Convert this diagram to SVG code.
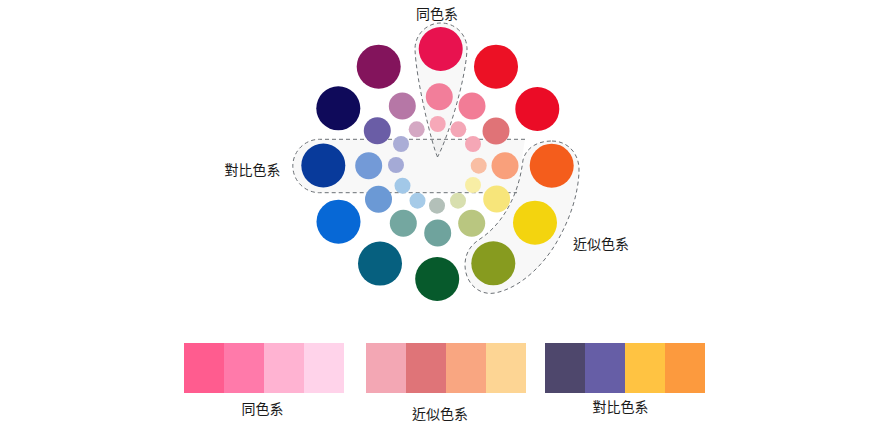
<svg xmlns="http://www.w3.org/2000/svg" width="882" height="425" viewBox="0 0 882 425">
<style>
.lbl{font-family:"Noto Sans CJK TC","Noto Sans CJK SC",sans-serif;font-size:14px;fill:#1a1a1a;text-anchor:middle}
.zone{fill:#000;fill-opacity:0.028;stroke:#6b7075;stroke-width:1;stroke-dasharray:4 3}
</style>
<rect width="882" height="425" fill="#fff"/>
<g id="groups">
<path id="zone-contrast" class="zone" d="M525,139.3 L319.5,139.3 A26.7,26.7 0 0 0 319.5,192.7 L517,192.7"/>
<path id="zone-analog" class="zone" d="M552,141 C568,141 580,154 579,172 C578,195 570,220 555,245 C542,266 520,288 495,293 C478,296 465,282 465,265 C465,252 472,244 480,239 C495,229 505,215 512,200 C518,187 521,175 523,160 C526,148 537,141 552,141 Z"/>
<path id="zone-mono" class="zone" d="M437.5,157 C432,145 416,80 415,49 A26,26 0 1 1 467,49 C466,80 447,140 437.5,157 Z"/>
</g>
<g id="wheel-outer">
<circle cx="440.7" cy="49" r="22" fill="#E8124F"/>
<circle cx="496" cy="66.7" r="22" fill="#EC1125"/>
<circle cx="537.3" cy="109" r="22" fill="#EB0C26"/>
<circle cx="551.7" cy="165.7" r="22" fill="#F45D1C"/>
<circle cx="535" cy="222.7" r="22" fill="#F3D40F"/>
<circle cx="493.3" cy="263.3" r="22" fill="#879B1F"/>
<circle cx="437.2" cy="279" r="22" fill="#075A2C"/>
<circle cx="380" cy="263.6" r="22" fill="#06607F"/>
<circle cx="338.5" cy="221.7" r="22" fill="#0768D6"/>
<circle cx="323.3" cy="165.5" r="22" fill="#083A9B"/>
<circle cx="338.3" cy="108.3" r="22" fill="#0F0A5A"/>
<circle cx="378.7" cy="66.7" r="22" fill="#83145C"/>
</g>
<g id="wheel-middle">
<circle cx="439.3" cy="96.7" r="13.5" fill="#F27E9A"/>
<circle cx="472" cy="106" r="13.5" fill="#F27C96"/>
<circle cx="496" cy="131" r="13.5" fill="#E07377"/>
<circle cx="505" cy="165.7" r="13.5" fill="#F9A07B"/>
<circle cx="496.7" cy="199" r="13.5" fill="#F7E57A"/>
<circle cx="471.7" cy="223.3" r="13.5" fill="#B9C680"/>
<circle cx="437.7" cy="233" r="13.5" fill="#6FA39D"/>
<circle cx="403.3" cy="223.3" r="13.5" fill="#74A7A0"/>
<circle cx="378.5" cy="199.2" r="13.5" fill="#6B99D5"/>
<circle cx="368.7" cy="165.7" r="13.5" fill="#739AD7"/>
<circle cx="377.3" cy="130.7" r="13.5" fill="#6A5DA6"/>
<circle cx="402.3" cy="106" r="13.5" fill="#B677A6"/>
</g>
<g id="wheel-inner">
<circle cx="437.7" cy="124" r="8" fill="#F6A8B8"/>
<circle cx="458.3" cy="129.3" r="8" fill="#F4A6B6"/>
<circle cx="473" cy="144" r="8" fill="#F5A7B6"/>
<circle cx="478.7" cy="165.7" r="8" fill="#F9BEA3"/>
<circle cx="473" cy="185" r="8" fill="#F8EEA5"/>
<circle cx="458" cy="200.7" r="8" fill="#D8DFAF"/>
<circle cx="437" cy="205.7" r="8" fill="#B3C0B9"/>
<circle cx="417.5" cy="200.7" r="8" fill="#A6CBE8"/>
<circle cx="402.5" cy="185.7" r="8" fill="#A2C8E8"/>
<circle cx="396" cy="165" r="8" fill="#A4AAD6"/>
<circle cx="401" cy="144" r="8" fill="#AAADD6"/>
<circle cx="416.7" cy="129.3" r="8" fill="#D4A8C3"/>
</g>
<g id="labels">
<text class="lbl" x="437" y="18.5">同色系</text>
<text class="lbl" x="252.5" y="175.3">對比色系</text>
<text class="lbl" x="601" y="249">近似色系</text>
</g>
<g id="swatch-mono">
<rect x="184" y="343" width="40" height="50" fill="#FF5C8F"/>
<rect x="224" y="343" width="40" height="50" fill="#FF7AAA"/>
<rect x="264" y="343" width="40" height="50" fill="#FFB3D2"/>
<rect x="304" y="343" width="40" height="50" fill="#FFD3EA"/>
<text class="lbl" x="262.5" y="414">同色系</text>
</g>
<g id="swatch-analog">
<rect x="366" y="343" width="40" height="50" fill="#F3A7B4"/>
<rect x="406" y="343" width="40" height="50" fill="#DF7478"/>
<rect x="446" y="343" width="40" height="50" fill="#F9A681"/>
<rect x="486" y="343" width="40" height="50" fill="#FDD594"/>
<text class="lbl" x="440" y="418.5">近似色系</text>
</g>
<g id="swatch-contrast">
<rect x="545" y="343" width="40" height="50" fill="#4E476C"/>
<rect x="585" y="343" width="40" height="50" fill="#665EA6"/>
<rect x="625" y="343" width="40" height="50" fill="#FFC342"/>
<rect x="665" y="343" width="40" height="50" fill="#FC9A3E"/>
<text class="lbl" x="620.5" y="412">對比色系</text>
</g>
</svg>
